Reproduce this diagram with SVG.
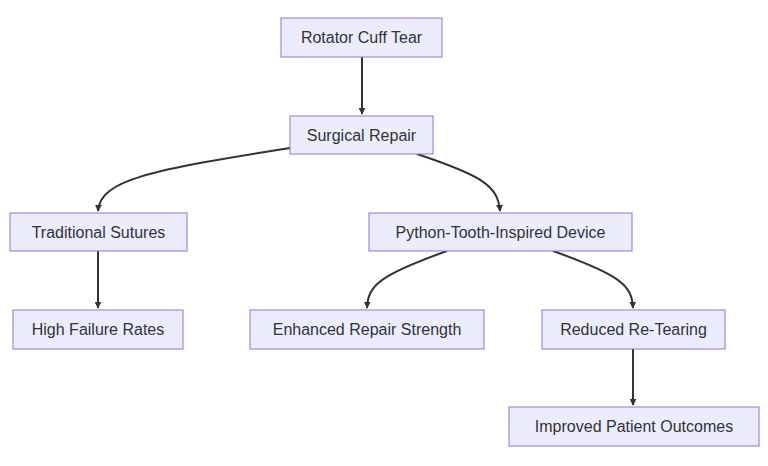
<svg xmlns="http://www.w3.org/2000/svg" width="768" height="466" viewBox="0 0 768 466">
<defs>
<marker id="ah" viewBox="0 0 10 10" refX="9" refY="5" markerWidth="7" markerHeight="7" markerUnits="userSpaceOnUse" orient="auto"><path d="M0,0L10,5L0,10z" fill="#333"/></marker>
<style>
.n rect{fill:#ECECFF;stroke:#9370DB;stroke-width:1}
.n text{font-family:"Liberation Sans",Arial,sans-serif;font-size:16px;fill:#333;text-anchor:middle;dominant-baseline:central}
#edges path{fill:none;stroke:#333;stroke-width:2;marker-end:url(#ah)}
</style>
</defs>
<rect width="768" height="466" fill="#fff"/>
<g id="edges">
<path d="M362,57L362,114"/>
<path d="M290,148C150,170 100,180 98,211"/>
<path d="M417,154C480,175 498,185 500,211"/>
<path d="M98,251L98,308"/>
<path d="M447,251C380,275 368,285 367,308"/>
<path d="M553,251C620,275 632,285 633,308"/>
<path d="M633,349L633,405"/>
</g>
<g id="n1" class="n"><rect x="281" y="18" width="161" height="39"/><text x="361.5" y="37.5">Rotator Cuff Tear</text></g>
<g id="n2" class="n"><rect x="290" y="116" width="143" height="38"/><text x="361.5" y="135">Surgical Repair</text></g>
<g id="n3" class="n"><rect x="10" y="213" width="177" height="38"/><text x="98.5" y="232">Traditional Sutures</text></g>
<g id="n4" class="n"><rect x="369" y="213" width="263" height="38"/><text x="500.5" y="232">Python-Tooth-Inspired Device</text></g>
<g id="n5" class="n"><rect x="13" y="310" width="170" height="39"/><text x="98" y="329.5">High Failure Rates</text></g>
<g id="n6" class="n"><rect x="250" y="310" width="234" height="39"/><text x="367" y="329.5">Enhanced Repair Strength</text></g>
<g id="n7" class="n"><rect x="542" y="310" width="183" height="39"/><text x="633.5" y="329.5">Reduced Re-Tearing</text></g>
<g id="n8" class="n"><rect x="509" y="407" width="250" height="39"/><text x="634" y="426.5">Improved Patient Outcomes</text></g>
</svg>
